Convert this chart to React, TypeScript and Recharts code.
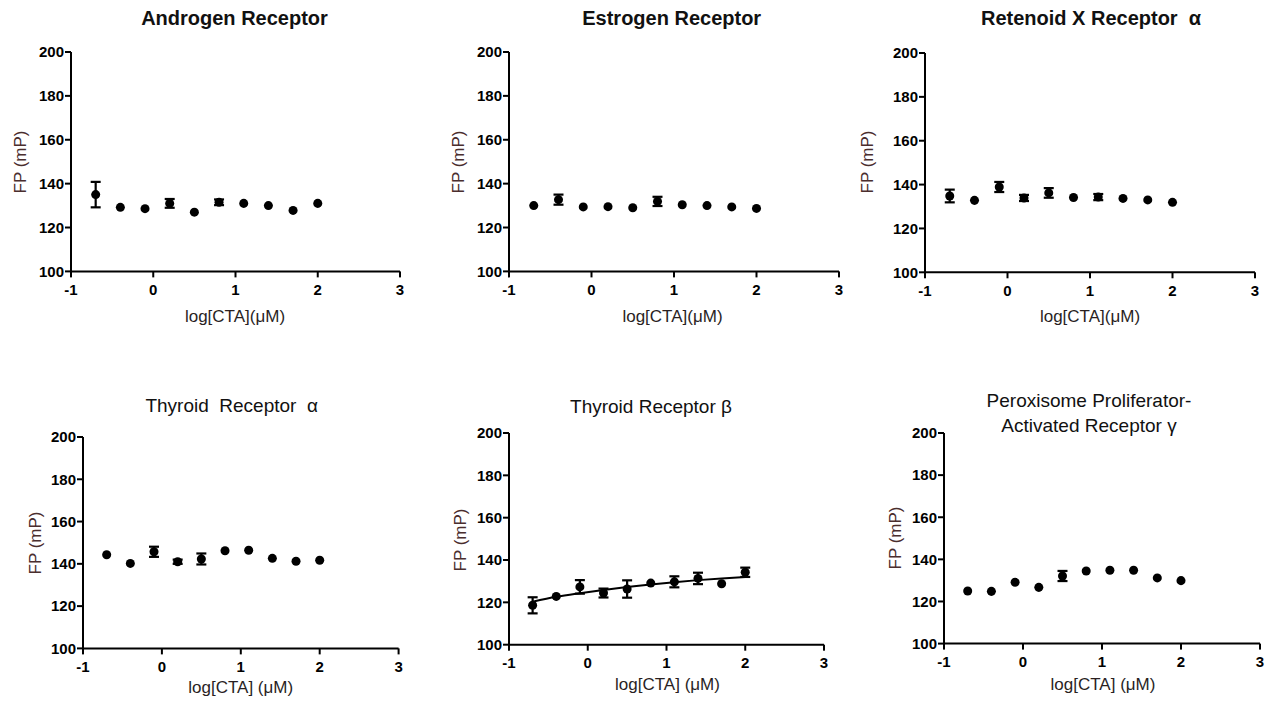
import React from "react";
import { ComposedChart, Scatter, Line, XAxis, YAxis, ErrorBar } from "recharts";

const FONT = "Arial, 'Liberation Sans', Helvetica, sans-serif";

// log10 of CTA concentration (uM)
const LOG_CTA = [-0.7, -0.4, -0.1, 0.2, 0.5, 0.8, 1.1, 1.4, 1.7, 2.0];

const AR_FP = [135, 129.2, 128.6, 131, 127, 131.5, 131, 130, 127.8, 131];
const AR_SEM = [5.8, 0, 0, 2, 0, 1.3, 0, 0, 0, 0];

const ER_FP = [130, 132.7, 129.4, 129.5, 129, 131.9, 130.4, 130, 129.4, 128.7];
const ER_SEM = [0, 2.3, 0, 0, 0, 2.1, 0, 0, 0, 0];

const RXR_FP = [134.8, 132.8, 138.9, 133.9, 136.2, 134.1, 134.3, 133.7, 133, 131.9];
const RXR_SEM = [2.9, 0, 2.3, 1.4, 2.2, 0, 1.4, 0, 0, 0];

const TRA_FP = [144.3, 140.2, 145.7, 141, 142.3, 146.2, 146.4, 142.6, 141.2, 141.7];
const TRA_SEM = [0, 0, 2.4, 1, 2.6, 0, 0, 0, 0, 0];

const TRB_FP = [118.6, 122.8, 127.3, 124.4, 126.3, 129.1, 129.7, 131.3, 128.8, 134.2];
const TRB_SEM = [3.8, 0, 3.2, 2.1, 4.1, 0, 2.6, 2.7, 0, 2.2];
const TRB_FIT = [120.3, 122.6, 124.3, 125.8, 127.2, 128.4, 129.5, 130.5, 131.3, 132];

const PPAR_FP = [125, 124.8, 129.1, 126.7, 132.1, 134.5, 134.8, 134.8, 131.2, 129.9];
const PPAR_SEM = [0, 0, 0, 0, 2.4, 0, 0, 0, 0, 0];

const X_TICKS = [-1, 0, 1, 2, 3];
const Y_TICKS = [100, 120, 140, 160, 180, 200];

type PanelDef = {
  title: string[];
  bold: boolean;
  xLabel: string;
  fp: number[];
  sem: number[];
  fit?: number[];
  // plot box in page px
  box: { l: number; t: number; r: number; b: number };
  titleX: number;
  titleY: number;
  xLabX: number;
  xLabY: number;
  yLabX: number;
  yLabY: number;
};

const PANELS: PanelDef[] = [
  {
    title: ["Androgen Receptor"], bold: true, xLabel: "log[CTA](\u03bcM)",
    fp: AR_FP, sem: AR_SEM,
    box: { l: 71, t: 52.3, r: 400, b: 271.7 },
    titleX: 234.5, titleY: 25, xLabX: 235, xLabY: 322, yLabX: 21, yLabY: 162,
  },
  {
    title: ["Estrogen Receptor"], bold: true, xLabel: "log[CTA](\u03bcM)",
    fp: ER_FP, sem: ER_SEM,
    box: { l: 508.7, t: 52.3, r: 838.7, b: 271.7 },
    titleX: 671.7, titleY: 25, xLabX: 672.5, xLabY: 322, yLabX: 459, yLabY: 162,
  },
  {
    title: ["Retenoid X Receptor  \u03b1"], bold: true, xLabel: "log[CTA](\u03bcM)",
    fp: RXR_FP, sem: RXR_SEM,
    box: { l: 924.7, t: 52.7, r: 1254.7, b: 272 },
    titleX: 1091, titleY: 25, xLabX: 1090, xLabY: 322, yLabX: 867.5, yLabY: 162,
  },
  {
    title: ["Thyroid  Receptor  \u03b1"], bold: false, xLabel: "log[CTA] (\u03bcM)",
    fp: TRA_FP, sem: TRA_SEM,
    box: { l: 82.7, t: 437.3, r: 398.3, b: 648.7 },
    titleX: 231.7, titleY: 412.3, xLabX: 240.7, xLabY: 693, yLabX: 35.8, yLabY: 543,
  },
  {
    title: ["Thyroid Receptor \u03b2"], bold: false, xLabel: "log[CTA] (\u03bcM)",
    fp: TRB_FP, sem: TRB_SEM, fit: TRB_FIT,
    box: { l: 509, t: 433.3, r: 824, b: 645 },
    titleX: 651, titleY: 413.3, xLabX: 667.5, xLabY: 690, yLabX: 460.8, yLabY: 540,
  },
  {
    title: ["Peroxisome Proliferator-", "Activated Receptor \u03b3"], bold: false,
    xLabel: "log[CTA] (\u03bcM)",
    fp: PPAR_FP, sem: PPAR_SEM,
    box: { l: 944.3, t: 432.7, r: 1260.3, b: 643.3 },
    titleX: 1089, titleY: 406.7, xLabX: 1103, xLabY: 690, yLabX: 896, yLabY: 538,
  },
];

// place a text block so its first baseline sits at `baseline`
function PageText({
  lines, cx, baseline, size, bold, color = "#111", lh,
}: {
  lines: string[]; cx: number; baseline: number; size: number; bold?: boolean; color?: string; lh?: number;
}) {
  const lineH = lh ?? size;
  const top = baseline - (lineH - 1.117 * size) / 2 - 0.905 * size;
  return (
    <div
      style={{
        position: "absolute", left: cx - 200, top, width: 400, textAlign: "center",
        fontFamily: FONT, fontSize: size, lineHeight: `${lineH}px`,
        fontWeight: bold ? "bold" : "normal", color, whiteSpace: "pre",
      }}
    >
      {lines.map((s) => (
        <div key={s}>{s}</div>
      ))}
    </div>
  );
}

function Panel({ p }: { p: PanelDef }) {
  const yW = 60;
  const xH = 40;
  const mTop = 10;
  const mRight = 22;
  const w = p.box.r - p.box.l + yW + mRight;
  const h = p.box.b - p.box.t + mTop + xH;
  const pts = LOG_CTA.map((x, i) => ({ x, y: p.fp[i], err: p.sem[i] }));
  const fit = p.fit ? LOG_CTA.map((x, i) => ({ x, y: p.fit![i] })) : null;
  const tick = { fill: "#000", fontSize: 15, fontWeight: "bold", fontFamily: FONT };
  const axisStroke = { stroke: "#000", strokeWidth: 2 };

  return (
    <>
      <div style={{ position: "absolute", left: p.box.l - yW, top: p.box.t - mTop }}>
        <ComposedChart
          width={w}
          height={h}
          margin={{ top: mTop, right: mRight, bottom: 0, left: 0 }}
        >
          <XAxis
            type="number" dataKey="x" domain={[-1, 3]} ticks={X_TICKS} allowDataOverflow
            height={xH} tickSize={6} tickMargin={7} tick={tick}
            axisLine={axisStroke} tickLine={axisStroke}
          />
          <YAxis
            type="number" dataKey="y" domain={[100, 200]} ticks={Y_TICKS} allowDataOverflow
            width={yW} tickSize={6} tickMargin={1} tick={tick}
            axisLine={axisStroke} tickLine={axisStroke}
          />
          {fit && (
            <Line
              data={fit} dataKey="y" type="monotone" stroke="#000" strokeWidth={2}
              dot={false} activeDot={false} isAnimationActive={false}
            />
          )}
          <Scatter data={pts} fill="#000" isAnimationActive={false}>
            <ErrorBar
              dataKey="err" direction="y" width={5} stroke="#000" strokeWidth={2.2}
              isAnimationActive={false}
            />
          </Scatter>
        </ComposedChart>
      </div>
      <PageText lines={p.title} cx={p.titleX} baseline={p.titleY} size={p.bold ? 20 : 19} bold={p.bold} lh={25} />
      <PageText lines={[p.xLabel]} cx={p.xLabX} baseline={p.xLabY} size={17} color="#2a1f1f" />
      <div
        style={{
          position: "absolute", left: p.yLabX - 60, top: p.yLabY - 9, width: 120, height: 18,
          textAlign: "center", fontFamily: FONT, fontSize: 17, lineHeight: "18px",
          color: "#4a2e2e", transform: "rotate(-90deg)", transformOrigin: "center",
        }}
      >
        FP (mP)
      </div>
    </>
  );
}

export default function App() {
  return (
    <div
      style={{
        position: "absolute", left: 0, top: 0, width: 1272, height: 704,
        background: "#fff", overflow: "hidden",
      }}
    >
      {PANELS.map((p) => (
        <Panel key={p.title.join(" ")} p={p} />
      ))}
    </div>
  );
}
